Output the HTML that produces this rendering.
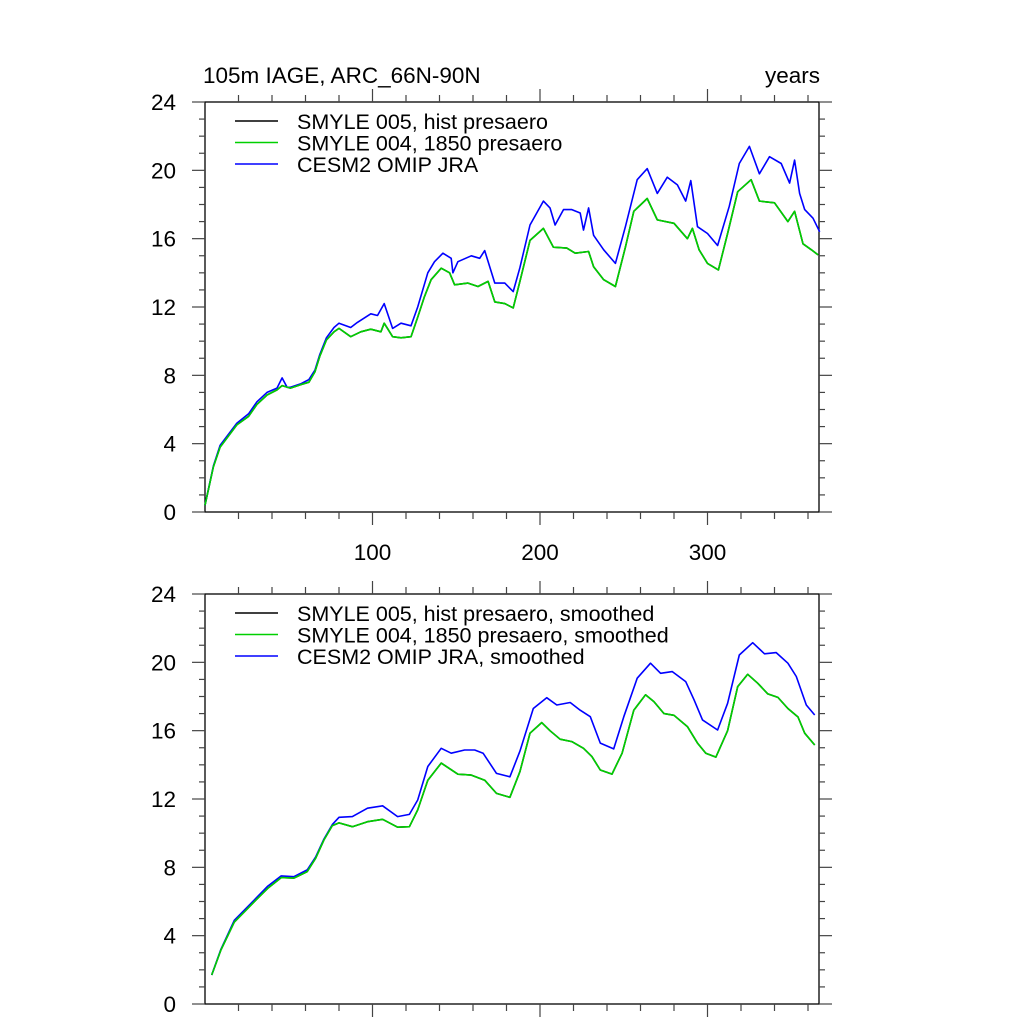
<!DOCTYPE html>
<html><head><meta charset="utf-8"><style>
body{margin:0;background:#fff}
svg{display:block;font-family:"Liberation Sans",Arial,sans-serif}
</style></head><body>
<svg id="chart" width="1024" height="1024" viewBox="0 0 1024 1024">
<text x="203" y="83" font-size="22.5">105m IAGE, ARC_66N-90N</text>
<text x="820" y="83" font-size="22.5" text-anchor="end">years</text>
<g id="top"></g>
<g id="bot"></g>
</svg>
<script>
const yTicks=[0,4,8,12,16,20,24];
const xTicks=[100,200,300];
const topMonthsGreen=[0,5,9,19,26,31,37,43,46,51,57,62,65.6,68.5,72.5,77,80,87,93,99,105,107,112,117,123,127,131,135,141,146,149,157,163,169,173,179,184,188,194,202,208,216,221,229,232,238,245,251,256,264,270,280,288,291,295,300,306.5,312,318,326,331,340,348,352,357,362,366];
const topGreen=[0.4,2.65,3.8,5.1,5.6,6.3,6.85,7.15,7.4,7.25,7.45,7.6,8.2,9.1,10.07,10.55,10.75,10.26,10.55,10.7,10.55,11.05,10.26,10.2,10.26,11.4,12.6,13.6,14.27,14.0,13.3,13.4,13.2,13.5,12.3,12.2,11.95,13.5,15.9,16.6,15.5,15.45,15.15,15.25,14.36,13.6,13.2,15.5,17.6,18.35,17.1,16.9,16.0,16.6,15.35,14.55,14.17,16.3,18.75,19.45,18.2,18.1,17.0,17.6,15.7,15.35,15.05];
const topBlack=[0.4,2.65,3.8,5.1,5.6,6.3,6.85,7.15,7.4,7.25,7.45,7.6,8.2,9.1,10.07,10.55,10.75,10.26,10.55,10.7,10.55,11.05,10.26,10.2,10.26,11.4,12.6,13.6,14.27,14.0,13.3,13.4,13.2,13.5,12.3,12.2,11.95,13.5,15.9,16.6,15.5,15.45,15.15,15.25,14.36,13.6,13.2,15.5,17.6,18.35,17.1,16.9,16.0,16.6,15.35,14.55,14.17,16.3,18.75,19.45,18.2,18.1,17.0,17.6,15.7,15.35,15.05];
const topMonthsBlue=[0,5,9,19,26,31,37,43,46,49,51,57,62,65.6,68.5,72.5,77,80,87,91,99,103,107,112,117,123,127,133,137,142,147,148,151,159,164,167,173,179,184,188,194,202,206,209,214,219,224,226,229,232,238,245,251,258,264,270,276,282,287,290,294,300,306,313,319,325,331,337,344,349,352,355,358,363,367];
const topBlue=[0.4,2.7,3.9,5.2,5.75,6.45,7.0,7.25,7.85,7.3,7.3,7.5,7.75,8.3,9.2,10.2,10.8,11.05,10.8,11.1,11.6,11.5,12.2,10.75,11.05,10.9,12.0,14.0,14.65,15.15,14.85,14.0,14.65,15.0,14.85,15.3,13.4,13.4,12.9,14.3,16.8,18.2,17.8,16.8,17.7,17.7,17.5,16.5,17.8,16.2,15.35,14.55,16.7,19.45,20.1,18.65,19.6,19.15,18.2,19.4,16.7,16.3,15.6,17.9,20.4,21.4,19.8,20.8,20.4,19.25,20.6,18.65,17.7,17.2,16.4];
const botMonthsGreen=[4,9.5,17.5,23.5,30.5,37.5,45.5,53,61,66,71,76,80,88,97,106,115,122,127,133,141,151,159,167,174,182,188,194,201,206,212,219,226,231,236,243,249,256,263,268,274,280,288,294,299,305,312,318,324,330,336,342,348,354,358,364];
const botGreen=[1.7,3.16,4.8,5.4,6.1,6.77,7.4,7.37,7.75,8.53,9.6,10.44,10.6,10.38,10.67,10.81,10.35,10.38,11.36,13.1,14.1,13.45,13.4,13.1,12.33,12.1,13.6,15.85,16.47,16.0,15.5,15.36,14.97,14.48,13.7,13.46,14.68,17.2,18.1,17.7,17.0,16.9,16.24,15.27,14.68,14.45,16.0,18.58,19.3,18.77,18.15,17.95,17.3,16.8,15.85,15.16];
const botBlack=[1.7,3.16,4.8,5.4,6.1,6.77,7.4,7.37,7.75,8.53,9.6,10.44,10.6,10.38,10.67,10.81,10.35,10.38,11.36,13.1,14.1,13.45,13.4,13.1,12.33,12.1,13.6,15.85,16.47,16.0,15.5,15.36,14.97,14.48,13.7,13.46,14.68,17.2,18.1,17.7,17.0,16.9,16.24,15.27,14.68,14.45,16.0,18.58,19.3,18.77,18.15,17.95,17.3,16.8,15.85,15.16];
const botMonthsBlue=[4,9.5,17.5,23.5,30.5,37.5,45.5,53,61,66,71,76,80,88,97,106,115,122,127,133,141,147,155,161,166,174,182,188,196,204,210,218,224,230,236,244,250,258,266,272,279,287,292,297,306,312,319,327,334,341,348,353,359,364];
const botBlue=[1.7,3.2,4.9,5.5,6.2,6.9,7.5,7.45,7.85,8.6,9.65,10.5,10.93,10.97,11.46,11.6,10.97,11.1,11.94,13.9,14.97,14.68,14.87,14.87,14.68,13.5,13.3,14.8,17.3,17.93,17.5,17.65,17.2,16.82,15.27,14.93,16.82,19.07,19.95,19.36,19.46,18.87,17.8,16.63,16.04,17.6,20.43,21.15,20.5,20.57,19.95,19.17,17.5,16.92];

const NS='http://www.w3.org/2000/svg';
const L=205,R=819,XMAX=(R-L)/1.675;
function mk(p,tag,at){const e=document.createElementNS(NS,tag);for(const k in at)e.setAttribute(k,at[k]);p.appendChild(e);return e;}
function panel(g,top,bottom,showX,series,legend){
  const sx=v=>L+v*(R-L)/XMAX, sy=v=>bottom-v*(bottom-top)/24;
  const frame=mk(g,'rect',{x:L,y:top,width:R-L,height:bottom-top,fill:'none',stroke:'#000','stroke-width':1.3});
  
  
  for(let v=0;v<=24;v++){
    const len=v%4===0?13:6;
    [[L,L-len],[R,R+len]].forEach(([a,b])=>{const t=mk(g,'line',{x1:a,x2:b,y1:sy(v),y2:sy(v),stroke:'#444','stroke-width':1.2});
      
      });
  }
  yTicks.forEach(v=>{const t=mk(g,'text',{x:176,y:sy(v)+8,'font-size':22.5,'text-anchor':'end'});t.textContent=v;
    
    });
  for(let v=20;v<XMAX;v+=20){
    const len=v%100===0?13:7;
    [[bottom,bottom+len],[top,top-len]].forEach(([a,b])=>{const t=mk(g,'line',{x1:sx(v),x2:sx(v),y1:a,y2:b,stroke:'#444','stroke-width':1.2});
      
      });
  }
  if(showX) xTicks.forEach(v=>{const t=mk(g,'text',{x:sx(v),y:bottom+48,'font-size':22.5,'text-anchor':'middle'});t.textContent=v;
    
    });
  series.forEach(s=>{
    const pts=s.vals.map((v,j)=>sx(s.x[j]).toFixed(1)+','+sy(v).toFixed(1)).join(' ');
    const pl=mk(g,'polyline',{points:pts,fill:'none',stroke:s.color,'stroke-width':1.6,'stroke-linejoin':'round'});
    
    
  });
  legend.forEach((lg,i)=>{
    const y=top+19+i*21.5;
    const ln=mk(g,'line',{x1:235,x2:278,y1:y,y2:y,stroke:lg.color,'stroke-width':1.5});
    
    
    const t=mk(g,'text',{x:297,y:y+8,'font-size':21.5});t.textContent=lg.label;
    
    
  });
}
panel(document.getElementById('top'),102,512,true,[
  {x:topMonthsGreen,vals:topBlack,color:'#000',name:'series-smyle005'},
  {x:topMonthsBlue,vals:topBlue,color:'#0000ff',name:'series-cesm2-omip'},
  {x:topMonthsGreen,vals:topGreen,color:'#00d000',name:'series-smyle004'}],
  [{color:'#000',label:'SMYLE 005, hist presaero'},{color:'#00d000',label:'SMYLE 004, 1850 presaero'},{color:'#0000ff',label:'CESM2 OMIP JRA'}]);
panel(document.getElementById('bot'),594,1004,false,[
  {x:botMonthsGreen,vals:botBlack,color:'#000',name:'series-smyle005-smoothed'},
  {x:botMonthsBlue,vals:botBlue,color:'#0000ff',name:'series-cesm2-omip-smoothed'},
  {x:botMonthsGreen,vals:botGreen,color:'#00d000',name:'series-smyle004-smoothed'}],
  [{color:'#000',label:'SMYLE 005, hist presaero, smoothed'},{color:'#00d000',label:'SMYLE 004, 1850 presaero, smoothed'},{color:'#0000ff',label:'CESM2 OMIP JRA, smoothed'}]);
</script>
</body></html>
